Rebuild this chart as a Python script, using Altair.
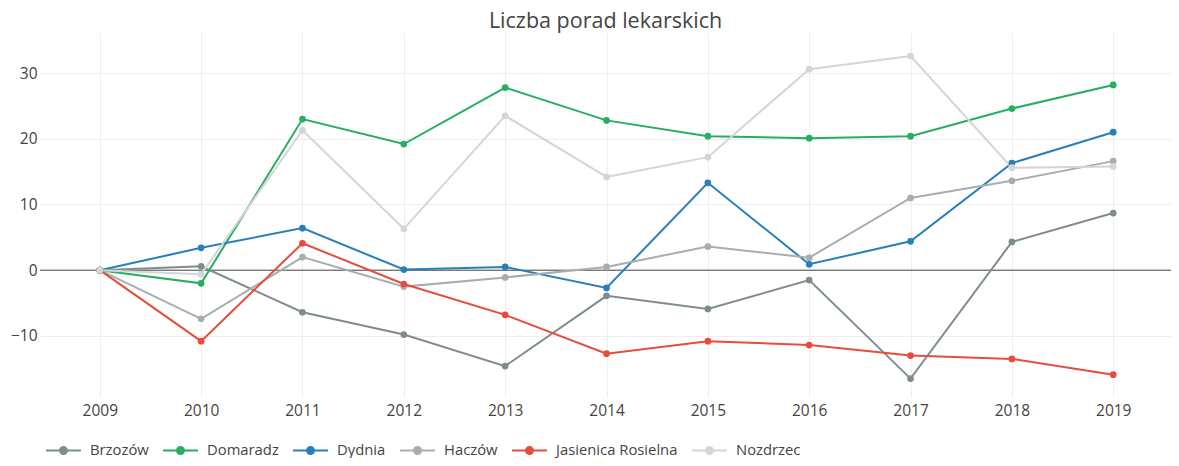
import altair as alt
import pandas as pd

years = list(range(2009, 2020))
series_names = ["Brzozów", "Domaradz", "Dydnia", "Haczów", "Jasienica Rosielna", "Nozdrzec"]
colors = ["#7f8c8d", "#27ae60", "#2980b9", "#a7aeb0", "#e74c3c", "#d3d5d6"]

brzozow = [0, 0.6, -6.4, -9.8, -14.6, -3.9, -5.9, -1.5, -16.5, 4.3, 8.7]
domaradz = [0, -2.0, 23.0, 19.2, 27.8, 22.8, 20.4, 20.1, 20.4, 24.6, 28.2]
dydnia = [0, 3.4, 6.4, 0.1, 0.5, -2.7, 13.3, 0.9, 4.4, 16.3, 21.0]
haczow = [0, -7.4, 2.0, -2.5, -1.1, 0.5, 3.6, 1.9, 11.0, 13.6, 16.6]
jasienica = [0, -10.8, 4.1, -2.1, -6.8, -12.7, -10.8, -11.4, -13.0, -13.5, -15.9]
nozdrzec = [0, -0.6, 21.3, 6.3, 23.5, 14.2, 17.2, 30.6, 32.6, 15.6, 15.8]

all_values = [brzozow, domaradz, dydnia, haczow, jasienica, nozdrzec]

rows = []
for order, (name, vals) in enumerate(zip(series_names, all_values)):
    for y, v in zip(years, vals):
        rows.append({"rok": y, "wartosc": v, "gmina": name, "kolejnosc": order})
df = pd.DataFrame(rows)

FONT = "Open Sans"
TXT = "#444444"

legend_path = "M-1,0H1M-0.2,0A0.2,0.2 0 1,1 0.2,0A0.2,0.2 0 1,1 -0.2,0Z"

color = alt.Color(
    "gmina:N",
    scale=alt.Scale(domain=series_names, range=colors),
    sort=series_names,
    legend=alt.Legend(
        title=None,
        orient="none",
        direction="horizontal",
        legendX=5,
        legendY=399,
        symbolType=legend_path,
        symbolSize=1225,
        symbolStrokeWidth=2,
        symbolFillColor=alt.ExprRef(expr="scale('color', datum.value)"),
        labelFont=FONT,
        labelFontSize=14.8,
        labelColor=TXT,
        labelOffset=8,
        columnPadding=10,
    ),
)

x = alt.X(
    "rok:Q",
    scale=alt.Scale(domain=[2008.41, 2019.57], nice=False, zero=False),
    axis=alt.Axis(
        title=None,
        values=years,
        format="d",
        grid=True,
        gridColor="#eeeeee",
        domain=False,
        ticks=False,
        labelFont=FONT,
        labelFontSize=15.5,
        labelColor=TXT,
        labelPadding=6,
    ),
)
y = alt.Y(
    "wartosc:Q",
    scale=alt.Scale(domain=[-19.3, 36.1], nice=False, zero=False),
    axis=alt.Axis(
        title=None,
        values=[-10, 0, 10, 20, 30],
        grid=True,
        gridColor="#eeeeee",
        domain=False,
        ticks=False,
        labelFont=FONT,
        labelFontSize=15.5,
        labelColor=TXT,
        labelPadding=3,
    ),
)

zero_df = pd.DataFrame({"zero": [0]})
zero_line = alt.Chart(zero_df).mark_rule(color="#444444", strokeWidth=1).encode(
    y=alt.Y("zero:Q", scale=alt.Scale(domain=[-19.3, 36.1], nice=False, zero=False))
)

lines = alt.Chart(df).mark_line(
    strokeWidth=2,
    point=alt.OverlayMarkDef(filled=True, size=45, opacity=1),
).encode(x=x, y=y, color=color, order="rok:Q")

chart = (
    alt.layer(zero_line, lines)
    .properties(
        width=1131,
        height=364,
        padding={"left": 32, "top": 25, "right": 0, "bottom": 61},
        autosize=alt.AutoSizeParams(type="none"),
        title=alt.TitleParams(
            "Liczba porad lekarskich",
            font=FONT,
            fontSize=21.5,
            fontWeight="normal",
            color=TXT,
            anchor="middle",
            offset=1,
        ),
    )
    .configure_view(stroke=None)
)

chart.save("out.html", embed_options={"renderer": "svg", "actions": False})
